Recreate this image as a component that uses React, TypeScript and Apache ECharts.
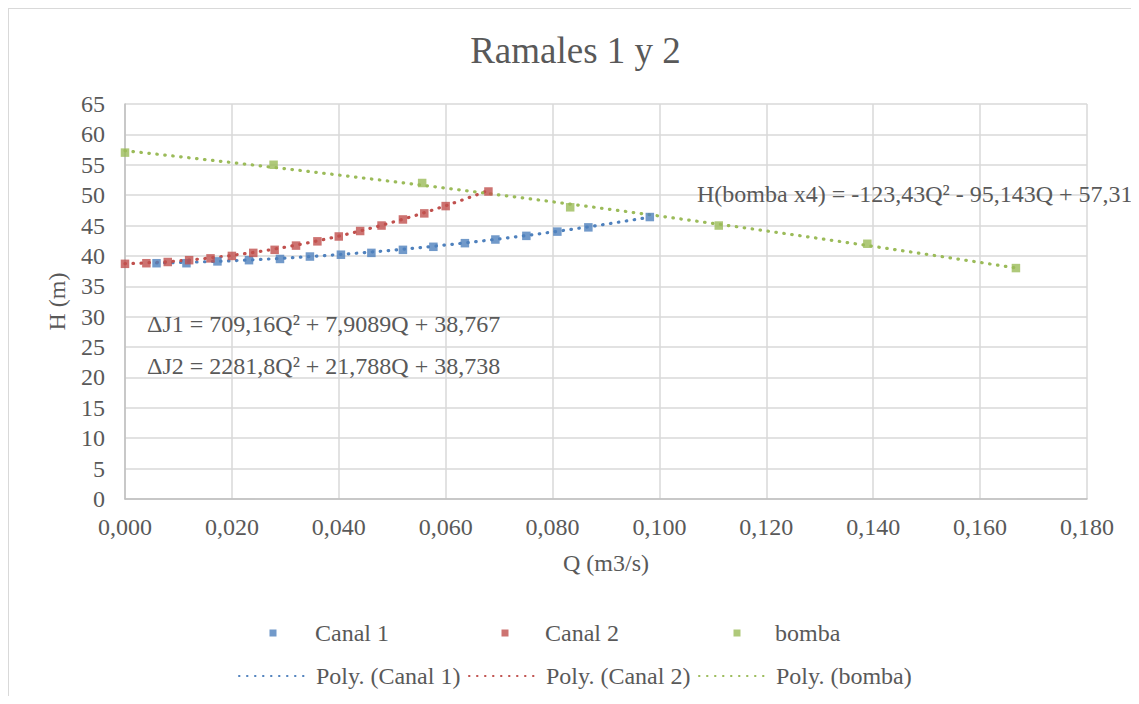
import React, { useEffect, useRef } from "react";
import * as echarts from "echarts";

// Measured points: discharge Q (m3/s) and head H (m)
const Q_CANAL1 = [0.0059, 0.0115, 0.0173, 0.0232, 0.029, 0.0346, 0.0404, 0.0461, 0.052, 0.0577, 0.0636, 0.0693, 0.0751, 0.0809, 0.0867, 0.0982];
const H_CANAL1 = [38.8, 38.8, 39.1, 39.3, 39.5, 39.9, 40.2, 40.5, 41.0, 41.5, 42.1, 42.7, 43.3, 44.0, 44.7, 46.4];

const Q_CANAL2 = [0, 0.004, 0.008, 0.012, 0.016, 0.02, 0.024, 0.028, 0.032, 0.036, 0.04, 0.044, 0.048, 0.052, 0.056, 0.06, 0.068];
const H_CANAL2 = [38.7, 38.8, 39.0, 39.3, 39.6, 40.0, 40.5, 41.0, 41.7, 42.4, 43.2, 44.1, 45.0, 46.0, 47.0, 48.2, 50.6];

const Q_BOMBA = [0, 0.0278, 0.0556, 0.0833, 0.1111, 0.1389, 0.1667];
const H_BOMBA = [57, 55, 52, 48, 45, 42, 38];

// Quadratic trendline coefficients [a, b, c] for H = aQ² + bQ + c, as printed on the chart
const FIT_CANAL1 = [709.16, 7.9089, 38.767];
const FIT_CANAL2 = [2281.8, 21.788, 38.738];
const FIT_BOMBA = [-123.43, -95.143, 57.31];

const EQ_CANAL1 = "ΔJ1 = 709,16Q² + 7,9089Q + 38,767";
const EQ_CANAL2 = "ΔJ2 = 2281,8Q² + 21,788Q + 38,738";
const EQ_BOMBA = "H(bomba x4) = -123,43Q² - 95,143Q + 57,31";

const X_TICKS = { min: 0, max: 0.18, interval: 0.02 };
const Y_TICKS = { min: 0, max: 65, interval: 5 };

const BLUE = "#4F81BD";
const RED = "#C0504D";
const GREEN = "#9BBB59";
const TEXT = "#595959";
const FONT = "Liberation Serif";
const FS = 24;

const W = 1131;
const H = 688;

const pairs = (xs: number[], ys: number[]) => xs.map((x, i) => [x, ys[i]]);

// Curve of the fitted polynomial across the range of its own data
function trendline(fit: number[], xs: number[], steps = 80) {
  const lo = Math.min(...xs);
  const hi = Math.max(...xs);
  const pts: number[][] = [];
  for (let i = 0; i <= steps; i++) {
    const q = lo + ((hi - lo) * i) / steps;
    pts.push([q, fit[0] * q * q + fit[1] * q + fit[2]]);
  }
  return pts;
}

const dotted = (color: string) => ({
  color,
  width: 3.2,
  type: [0.5, 7.5] as number[],
  cap: "round" as const,
});

const textStyle = { fontFamily: FONT, fontSize: FS, color: TEXT };

// One legend entry per component so the columns line up
const markerLegend = (name: string, left: number, gap: number) => ({
  data: [name],
  left,
  top: 613,
  padding: 0,
  icon: "rect",
  itemWidth: 7,
  itemHeight: 7,
  textStyle: { ...textStyle, padding: [0, 0, 0, gap] },
});

const lineLegend = (name: string, left: number) => ({
  data: [name],
  left,
  top: 656,
  padding: 0,
  itemWidth: 72,
  itemHeight: 14,
  itemStyle: { opacity: 0 },
  textStyle,
});

export default function App() {
  const ref = useRef<HTMLDivElement>(null);

  useEffect(() => {
    if (!ref.current) return;
    const chart = echarts.init(ref.current, undefined, { renderer: "svg" });

    const scatter = (name: string, data: number[][], color: string) => ({
      name,
      type: "scatter",
      data,
      symbol: "rect",
      symbolSize: 8.5,
      itemStyle: { color },
      z: 3,
    });

    const trend = (name: string, data: number[][], color: string) => ({
      name,
      type: "line",
      data,
      symbol: "none",
      showSymbol: false,
      lineStyle: dotted(color),
      itemStyle: { color },
      z: 2,
    });

    const eqText = (x: number, y: number, text: string) => ({
      type: "text",
      x,
      y,
      style: {
        text,
        fill: TEXT,
        font: `${FS}px ${FONT}`,
        verticalAlign: "middle",
      },
      z: 10,
    });

    chart.setOption({
      animation: false,
      backgroundColor: "#ffffff",
      textStyle: { fontFamily: FONT, color: TEXT },
      grid: { left: 117, right: 52, top: 96, bottom: 197, containLabel: false },
      xAxis: {
        type: "value",
        min: X_TICKS.min,
        max: X_TICKS.max,
        interval: X_TICKS.interval,
        name: "Q (m3/s)",
        nameLocation: "middle",
        nameGap: 52,
        nameTextStyle: textStyle,
        axisLine: { show: true, lineStyle: { color: "#bfbfbf", width: 1.5 } },
        axisTick: { show: false },
        splitLine: { show: true, lineStyle: { color: "#d9d9d9", width: 1.5 } },
        axisLabel: {
          ...textStyle,
          margin: 16,
          formatter: (v: number) => v.toFixed(3).replace(".", ","),
        },
      },
      yAxis: {
        type: "value",
        min: Y_TICKS.min,
        max: Y_TICKS.max,
        interval: Y_TICKS.interval,
        name: "H (m)",
        nameLocation: "middle",
        nameGap: 56,
        nameRotate: 90,
        nameTextStyle: textStyle,
        axisLine: { show: true, lineStyle: { color: "#bfbfbf", width: 1.5 } },
        axisTick: { show: false },
        splitLine: { show: true, lineStyle: { color: "#d9d9d9", width: 1.5 } },
        axisLabel: { ...textStyle, margin: 20 },
      },
      legend: [
        markerLegend("Canal 1", 261.5, 33.5),
        markerLegend("Canal 2", 493.5, 31.5),
        markerLegend("bomba", 725.5, 29.5),
        lineLegend("Poly. (Canal 1)", 230),
        lineLegend("Poly. (Canal 2)", 460),
        lineLegend("Poly. (bomba)", 690),
      ],
      series: [
        trend("Poly. (Canal 1)", trendline(FIT_CANAL1, Q_CANAL1), BLUE),
        trend("Poly. (Canal 2)", trendline(FIT_CANAL2, Q_CANAL2), RED),
        trend("Poly. (bomba)", trendline(FIT_BOMBA, Q_BOMBA), GREEN),
        scatter("Canal 1", pairs(Q_CANAL1, H_CANAL1), BLUE),
        scatter("Canal 2", pairs(Q_CANAL2, H_CANAL2), RED),
        scatter("bomba", pairs(Q_BOMBA, H_BOMBA), GREEN),
      ],
      graphic: [
        // chart area frame (left and top edges)
        { type: "line", shape: { x1: 0.5, y1: 0, x2: 0.5, y2: H }, style: { stroke: "#d9d9d9", lineWidth: 1 } },
        { type: "line", shape: { x1: 0, y1: 0.5, x2: W, y2: 0.5 }, style: { stroke: "#d9d9d9", lineWidth: 1 } },
        {
          type: "text",
          x: 567.5,
          y: 42.5,
          style: {
            text: "Ramales 1 y 2",
            fill: TEXT,
            font: `37px ${FONT}`,
            align: "center",
            verticalAlign: "middle",
          },
        },
        eqText(139, 316, EQ_CANAL1),
        eqText(139, 358, EQ_CANAL2),
        eqText(689, 186, EQ_BOMBA),
      ],
    });

    return () => chart.dispose();
  }, []);

  return <div ref={ref} style={{ width: W, height: H }} />;
}
